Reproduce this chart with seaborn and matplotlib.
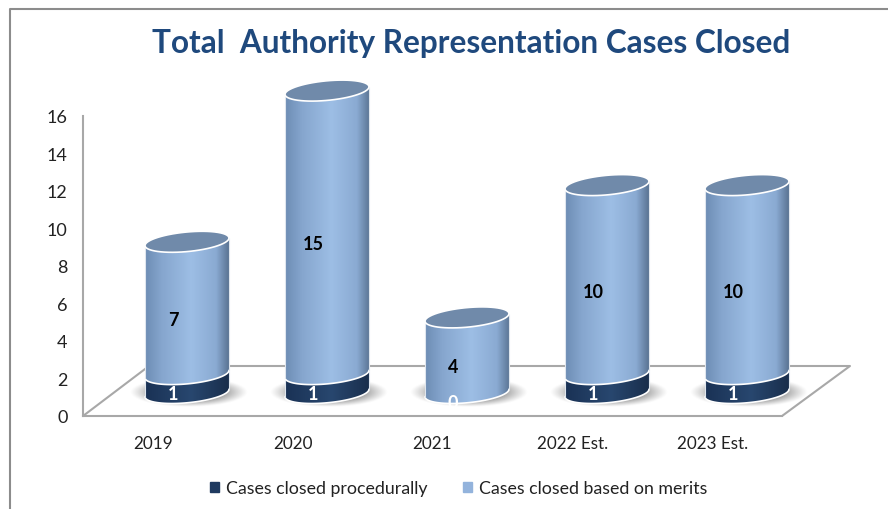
import numpy as np
import matplotlib
matplotlib.use('Agg')
import matplotlib.pyplot as plt
from matplotlib.colors import LinearSegmentedColormap, to_rgb
from matplotlib.lines import Line2D
from matplotlib.patches import Patch, Polygon
import seaborn as sns

categorias = ['2019', '2020', '2021', '2022 Est.', '2023 Est.']
procedural = [1, 1, 0, 1, 1]
merits = [7, 15, 4, 10, 10]
y_ticks = [0, 2, 4, 6, 8, 10, 12, 14, 16]

titulo = 'Total  Authority Representation Cases Closed'
serie_1 = 'Cases closed procedurally'
serie_2 = 'Cases closed based on merits'

W, H = 888, 510
OSCURO = '#1f3a60'
CLARO = '#93b3dc'
TAPA = '#708aaa'

sns.set_theme(style='white')
plt.rcParams['font.family'] = ['Lato', 'DejaVu Sans']

fig = plt.figure(figsize=(W / 100, H / 100), dpi=100, facecolor='white')

# ── Eje visible (pared y suelo) ────────────────────────────────
ax_base = fig.add_axes([83 / W, 1 - 417 / H, 699 / W, 300 / H], facecolor='none')
ax_base.set_xlim(-0.5, 4.5)
ax_base.set_ylim(0, 16)
ax_base.set_xticks(range(len(categorias)), categorias)
ax_base.set_yticks(y_ticks)
ax_base.tick_params(axis='x', length=0, pad=13.5, labelsize=12.3, labelcolor='#222222')
ax_base.tick_params(axis='y', length=0, pad=11, labelsize=13, labelcolor='#222222')
for etiqueta in ax_base.get_yticklabels():
    etiqueta.set_va('center_baseline')
sns.despine(ax=ax_base)
for lado in ['left', 'bottom']:
    ax_base.spines[lado].set_color('#a8a8a8')
    ax_base.spines[lado].set_linewidth(1.5)

# ── Ejes de las barras, desplazados como en el 3D ──────────────
ESC_X, ESC_Y = 140, 18.9
BASE_X, BASE_Y = 187, 394
ax = fig.add_axes([0, 0, 1, 1], facecolor='none')

sns.barplot(x=categorias, y=procedural, color=OSCURO, width=0.6, ax=ax, zorder=3)
sns.barplot(x=categorias, y=merits, bottom=procedural, color=CLARO, width=0.6, ax=ax, zorder=3)
ax.set_xlim(-BASE_X / ESC_X, (W - BASE_X) / ESC_X)
ax.set_ylim((BASE_Y - H) / ESC_Y, BASE_Y / ESC_Y)
ax.axis('off')


def px_a_dato(x, y):
    return (x - BASE_X) / ESC_X, (BASE_Y - y) / ESC_Y


# suelo
suelo = [(83, 417), (149, 367), (850, 367), (782, 417)]
ax.plot(*zip(*[px_a_dato(*p) for p in suelo]), color='#a8a8a8', lw=1.5, zorder=1)

SEMI_A, SEMI_B, INCL = 0.3, 9.8 / ESC_Y, 0.09 * 140 / ESC_Y


def arco(xc, yc, t0, t1, n=60):
    t = np.linspace(t0, t1, n)
    dx = SEMI_A * np.cos(t)
    return np.column_stack([xc + dx, yc + SEMI_B * np.sin(t) + INCL * dx])


def tramo(xc, y0, y1):
    # cuerpo: borde inferior de y1 (arriba) + borde inferior de y0 (abajo)
    return np.vstack([arco(xc, y1, np.pi, 2 * np.pi), arco(xc, y0, 2 * np.pi, np.pi)])


def degradado(colores):
    return LinearSegmentedColormap.from_list('g', colores)(np.linspace(0, 1, 128))[None, :, :3]


GRAD_OSC = degradado([(0, '#1a3255'), (0.55, '#28476f'), (1, '#192e4c')])
GRAD_CLA = degradado([(0, '#6d8db4'), (0.2, '#86a6ce'), (0.55, '#9dbee5'), (0.85, '#8aaad2'), (1, '#5a7494')])

sombra_rgb = np.array(to_rgb('#777777'))
xx, yy = np.meshgrid(np.linspace(-1, 1, 160), np.linspace(-1, 1, 60))
r = np.hypot(xx, yy)
sombra = np.dstack([np.tile(sombra_rgb, (60, 160, 1)), np.clip((1 - r) / 0.5, 0, 1) ** 1.1 * 0.9])

n = len(categorias)
barras_osc = ax.patches[:n]
barras_cla = ax.patches[n:]

for i in range(n):
    b_osc, b_cla = barras_osc[i], barras_cla[i]
    xc = b_cla.get_x() + b_cla.get_width() / 2
    y_med = procedural[i]
    y_top = procedural[i] + merits[i]

    # sombra sobre el suelo
    ax.imshow(sombra, extent=(xc - 0.42 + 0.01, xc + 0.42 + 0.01, -0.75, 0.8),
              aspect='auto', zorder=2, interpolation='bilinear')

    for barra, y0, y1, grad in [(b_osc, 0, y_med, GRAD_OSC), (b_cla, y_med, y_top, GRAD_CLA)]:
        if y1 <= y0:
            barra.set_visible(False)
            continue
        forma = Polygon(tramo(xc, y0, y1), closed=True, transform=ax.transData)
        barra.set_clip_path(forma)
        im = ax.imshow(grad, extent=(xc - SEMI_A, xc + SEMI_A, y0 - 1, y1 + 1),
                       aspect='auto', zorder=4, interpolation='bilinear')
        im.set_clip_path(forma)
        # contorno blanco
        ax.plot(*np.vstack([arco(xc, y0, np.pi, 2 * np.pi)]).T, color='white', lw=1.2, zorder=5)
        ax.plot([xc - SEMI_A] * 2, [y0 - INCL * SEMI_A, y1 - INCL * SEMI_A], color='#dfe6ee', lw=0.8, zorder=5)
        ax.plot([xc + SEMI_A] * 2, [y0 + INCL * SEMI_A, y1 + INCL * SEMI_A], color='#dfe6ee', lw=0.8, zorder=5)

    # tapa
    ax.add_patch(Polygon(arco(xc, y_top, 0, 2 * np.pi), closed=True, facecolor=TAPA,
                         edgecolor='white', lw=1.2, zorder=6))

    # etiquetas
    x_txt = xc - 14 / ESC_X
    ax.text(x_txt, y_med / 2 - 10 / ESC_Y, str(procedural[i]), color='white', fontsize=13,
            fontweight='bold', ha='center', va='center', zorder=7)
    ax.text(x_txt, (y_med + y_top) / 2 - 11.5 / ESC_Y, str(merits[i]), color='black', fontsize=13,
            fontweight='bold', ha='center', va='center', zorder=7)

ax.set_xlim(-BASE_X / ESC_X, (W - BASE_X) / ESC_X)
ax.set_ylim((BASE_Y - H) / ESC_Y, BASE_Y / ESC_Y)

# ── Título, leyenda y marco ────────────────────────────────────
fig.text(471 / W, 1 - 43 / H, titulo, color='#1f497d', fontsize=22.7, fontweight='bold',
         ha='center', va='center')

fig.legend(handles=[Patch(color=OSCURO, label=serie_1), Patch(color=CLARO, label=serie_2)],
           ncol=2, loc='center', bbox_to_anchor=(459 / W, 1 - 489 / H), frameon=False,
           fontsize=12.75, handlelength=0.5, handleheight=0.5, handletextpad=0.4,
           columnspacing=2.0, labelcolor='#222222')

fig.add_artist(Line2D([10 / W, 10 / W, 1], [0, 1 - 10 / H, 1 - 10 / H], color='#8c8c8c', lw=1.5))

fig.savefig('out.png', dpi=100)
